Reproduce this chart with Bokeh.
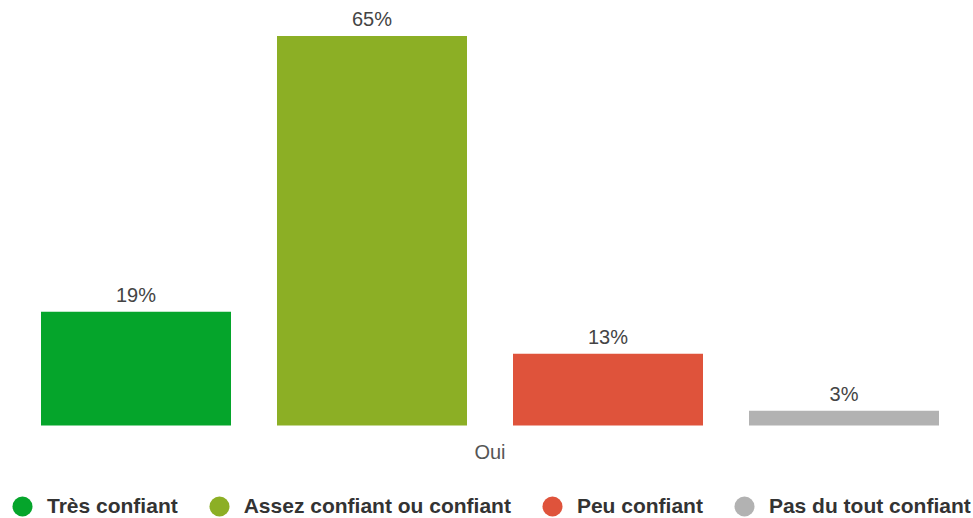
from bokeh.plotting import figure
from bokeh.models import (ColumnDataSource, FactorRange, Range1d, LabelSet, Legend, LegendItem)
from bokeh.core.properties import value
from bokeh.transform import dodge
from bokeh.embed import file_html
from bokeh.resources import INLINE

category = "Oui"
series = ["Très confiant", "Assez confiant ou confiant", "Peu confiant", "Pas du tout confiant"]
values = [19, 65, 12, 2.5]
value_labels = ["19%", "65%", "13%", "3%"]
colors = ["#05A52B", "#8CAF25", "#DF533B", "#B2B2B2"]

W, H = 973, 518
FW = 963  # frame width
p = figure(width=W, height=H, x_range=FactorRange(category),
           y_range=Range1d(-15.5, 69.6), output_backend="svg", toolbar_location=None,
           min_border_left=8, min_border_right=2, min_border_top=8, min_border_bottom=0)
p.outline_line_color = None
p.xgrid.visible = False
p.ygrid.visible = False
p.yaxis.visible = False

xa = p.xaxis[0]
xa.fixed_location = 0
xa.axis_line_color = None
xa.major_tick_line_color = None
xa.minor_tick_line_color = None
xa.major_tick_out = 0
xa.major_tick_in = 0
xa.major_label_standoff = 15
xa.major_label_text_font = "Liberation Sans"
xa.major_label_text_font_size = "20px"
xa.major_label_text_color = "#555555"

bar_w = 190 / FW
pitch = 236 / FW
n = len(series)
items = []
for i in range(n):
    off = (i - (n - 1) / 2) * pitch
    src = ColumnDataSource(dict(cat=[category], val=[values[i]], lab=[value_labels[i]]))
    xs = dodge("cat", off, range=p.x_range)
    p.vbar(x=xs, top="val", bottom=0, width=bar_w, source=src,
           fill_color=colors[i], line_color=None)
    p.add_layout(LabelSet(x=xs, y="val", text="lab", source=src,
                          text_align="center", text_baseline="alphabetic", y_offset=10,
                          text_font=value("Liberation Sans"), text_font_size=value("20px"),
                          text_color="#444444"))
    # hidden marker renderer that only supplies the round legend swatch
    swatch = p.scatter(x=xs, y="val", source=src, marker="circle", size=20,
                       fill_color=colors[i], line_color=None, visible=False)
    items.append(LegendItem(label=series[i], renderers=[swatch]))

legend = Legend(items=items, orientation="horizontal", location=(-11, -13),
                glyph_width=50, glyph_height=50, label_height=50, label_standoff=0,
                spacing=16, padding=0, margin=0,
                label_text_font="Liberation Sans", label_text_font_size="21px",
                label_text_font_style="bold", label_text_color="#333333",
                inactive_fill_alpha=0,
                border_line_color=None, background_fill_alpha=0)
p.add_layout(legend, "center")

open("out.html", "w").write(file_html(p, INLINE))
